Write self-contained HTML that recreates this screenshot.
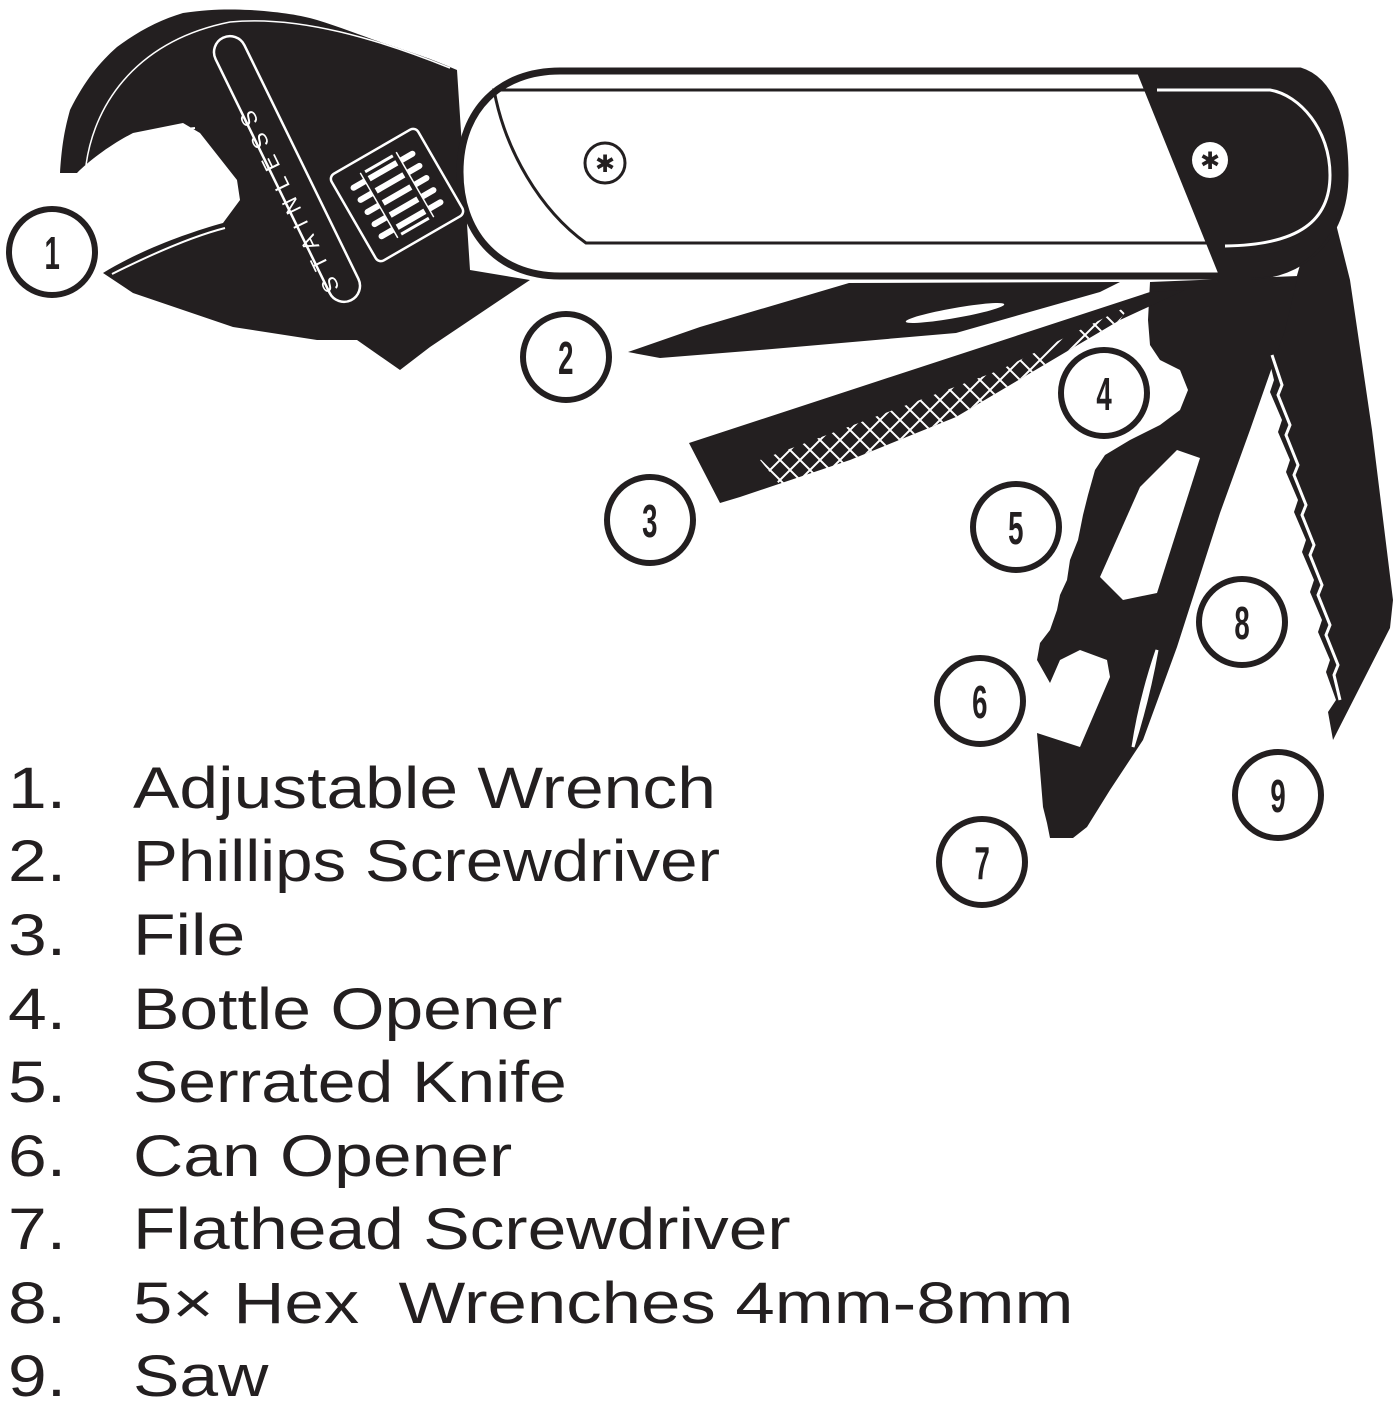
<!DOCTYPE html>
<html><head><meta charset="utf-8">
<style>
html,body{margin:0;padding:0;background:#fff;width:1397px;height:1403px;overflow:hidden}
svg{position:absolute;left:0;top:0}
.leg{position:absolute;font-family:"Liberation Sans",sans-serif;font-size:58px;color:#231f20;line-height:1;white-space:pre;transform:scaleX(1.2);transform-origin:0 0}
</style></head><body>
<svg width="1397" height="1403" viewBox="0 0 1397 1403">
<g fill="#231f20">
 <!-- saw (9) -->
 <path d="M1300,265 L1330,200 L1350,280 L1372,430 L1393,600 L1390,628 L1333,740 L1328,712 L1336,700 L1326,672 L1330,660 L1318,632 L1322,620 L1310,592 L1314,580 L1302,552 L1306,540 L1294,512 L1298,500 L1286,472 L1290,460 L1278,432 L1282,420 L1270,392 L1274,380 L1268,355 L1290,300 Z"/>
 <!-- knife + multi tool 4-7 combined -->
 <path d="M1150,282 L1298,276 L1285,330 L1250,430 L1220,513 L1177,647 L1143,740 L1110,790 L1087,827 L1073,838 L1050,838 L1047,823 L1043,807 L1037,733 L1080,747 L1110,677 L1107,660 L1080,650 L1060,660 L1050,683 L1037,660 L1040,643 L1050,630 L1057,610 L1060,595 L1067,580 L1070,560 L1078,540 L1083,515 L1088,495 L1095,470 L1105,455 L1130,440 L1160,425 L1180,410 L1188,390 L1180,370 L1160,360 L1150,345 L1148,320 Z"/>
 <!-- file (3) -->
 <path d="M689,443 L1150,292 L1185,290 L1120,320 L956,417 L850,460 L740,497 L720,503 Z"/>
 <!-- phillips (2) -->
 <path d="M628,352 L700,327 L849,283 L1120,282 L1100,292 L956,333 L760,350 L660,358 Z"/>
 <!-- wrench -->
 <path d="M60,173 C62,140 66,125 70,110 C85,80 100,62 117,47 C140,30 160,20 183,13 C210,9 230,9 250,10 C280,12 300,15 317,20 C340,27 360,35 383,43 C410,52 430,58 457,70 L470,270 L530,280 L500,300 L430,347 L400,370 L357,340 L317,340 L233,327 L133,293 L103,273 C140,250 190,232 223,223 L240,200 L237,180 L200,133 L183,123 L133,133 C110,145 90,160 77,173 Z"/>
</g>
<!-- mouth inner highlights -->
<path d="M82,170 C110,150 150,132 195,128" fill="none" stroke="#fff" stroke-width="2"/>
<path d="M112,274 C150,255 190,237 225,228" fill="none" stroke="#fff" stroke-width="2"/>
<path d="M86,165 C95,100 140,40 230,22 C300,15 380,40 450,68" fill="none" stroke="#fff" stroke-width="1.5"/>
<!-- hex hole -->
<path d="M1177,450 L1200,458 L1157,593 L1123,600 L1100,577 L1140,487 Z" fill="#fff"/>
<!-- screwdriver slit -->
<ellipse cx="955" cy="313" rx="50" ry="5" transform="rotate(-10 955 313)" fill="#fff"/>
<!-- knife slit -->
<path d="M1157,650 Q1140,700 1133,747 Q1148,700 1157,650 Z" fill="#fff" stroke="#fff" stroke-width="3"/>
<!-- saw white zigzag -->
<path d="M1272,355 L1282,385 L1278,395 L1290,425 L1286,435 L1298,465 L1294,475 L1306,505 L1302,515 L1314,545 L1310,555 L1322,585 L1318,595 L1330,625 L1326,635 L1338,665 L1334,675 L1340,700" fill="none" stroke="#fff" stroke-width="3"/>
<!-- handle -->
<path d="M560,71 L1300,71 C1330,80 1345,120 1345,175 C1345,240 1300,276 1250,276 L560,276 C495,276 460,230 460,172 C460,110 500,71 560,71 Z" fill="#fff" stroke="#231f20" stroke-width="7"/>
<path d="M494,90 L1215,90 L1228,243 L586,243 C540,210 505,150 494,90 Z" fill="none" stroke="#231f20" stroke-width="3"/>
<path d="M1136,70 L1300,70 C1330,80 1345,120 1345,175 C1345,240 1300,278 1250,278 L1220,278 Z" fill="#231f20"/>
<path d="M1157,90 L1270,90 C1300,95 1330,130 1330,175 C1330,220 1300,245 1225,246" fill="none" stroke="#fff" stroke-width="3"/>
<circle cx="605" cy="163" r="20" fill="#fff" stroke="#231f20" stroke-width="3"/>
<circle cx="1210" cy="160" r="18" fill="#fff"/>
<text x="605" y="172" font-family="DejaVu Sans,sans-serif" font-size="24" text-anchor="middle" fill="#231f20">✱</text>
<text x="1210" y="169" font-family="DejaVu Sans,sans-serif" font-size="24" text-anchor="middle" fill="#231f20">✱</text>
<!-- wrench plate -->
<g transform="translate(287,169) rotate(64)">
 <rect x="-146" y="-16" width="292" height="32" rx="16" fill="#231f20" stroke="#fff" stroke-width="2.5"/>
</g>
<text transform="translate(340,288) rotate(-116)" font-family="Liberation Sans,sans-serif" font-size="22" letter-spacing="10" fill="#fff">STAINLESS</text>
<g transform="translate(397,195) rotate(-30)">
 <rect x="-50" y="-50" width="100" height="100" rx="6" fill="#231f20" stroke="#fff" stroke-width="2.5"/>
 <g stroke="#fff" stroke-width="6" stroke-linecap="round">
  <line x1="-34" y1="-28" x2="34" y2="-28"/><line x1="-34" y1="-14" x2="34" y2="-14"/><line x1="-34" y1="0" x2="34" y2="0"/><line x1="-34" y1="14" x2="34" y2="14"/><line x1="-34" y1="28" x2="34" y2="28"/>
 </g>
 <rect x="-20" y="-36" width="40" height="72" fill="none" stroke="#fff" stroke-width="3"/>
 <line x1="-18" y1="-38" x2="-18" y2="38" stroke="#231f20" stroke-width="4"/>
 <line x1="18" y1="-38" x2="18" y2="38" stroke="#231f20" stroke-width="4"/>
</g>
<!-- file crosshatch -->
<clipPath id="fc"><path d="M780,485 L760,460 L1000,370 L1130,305 L1120,320 L956,417 L850,460 Z"/></clipPath>
<g clip-path="url(#fc)" stroke="#fff" stroke-width="2">
<path d="M640,300 L940,600 M660,300 L960,600 M680,300 L980,600 M700,300 L1000,600 M720,300 L1020,600 M740,300 L1040,600 M760,300 L1060,600 M780,300 L1080,600 M800,300 L1100,600 M820,300 L1120,600 M840,300 L1140,600 M860,300 L1160,600 M880,300 L1180,600 M900,300 L1200,600 M920,300 L1220,600 M940,300 L1240,600 M960,300 L1260,600 M980,300 L1280,600 M1000,250 L1300,550 M1020,250 L1320,550 M1040,250 L1340,550 M1060,250 L1360,550 M620,300 L920,600 M600,300 L900,600"/>
<path d="M1100,200 L800,500 M1120,200 L820,500 M1140,200 L840,500 M1160,200 L860,500 M1180,200 L880,500 M1200,200 L900,500 M1220,200 L920,500 M1240,200 L940,500 M1260,200 L960,500 M1280,200 L980,500 M1300,200 L1000,500 M1320,200 L1020,500 M1340,200 L1040,500 M1360,200 L1060,500 M1380,200 L1080,500 M1400,200 L1100,500 M1080,200 L780,500 M1060,200 L760,500 M1040,200 L740,500"/>
</g>
<!-- circles -->
<g fill="#fff" stroke="#231f20" stroke-width="6">
 <circle cx="52" cy="252" r="43"/><circle cx="566" cy="357" r="43"/><circle cx="650" cy="520" r="43"/>
 <circle cx="1104" cy="393" r="43"/><circle cx="1016" cy="527" r="43"/><circle cx="980" cy="701" r="43"/>
 <circle cx="982" cy="862" r="43"/><circle cx="1242" cy="622" r="43"/><circle cx="1278" cy="795" r="43"/>
</g>
<g font-family="Liberation Sans,sans-serif" font-weight="bold" font-size="46" text-anchor="middle" fill="#231f20" transform="scale(0.6,1)">
 <text x="87" y="269">1</text><text x="943" y="374">2</text><text x="1083" y="537">3</text>
 <text x="1840" y="410">4</text><text x="1693" y="544">5</text><text x="1633" y="718">6</text>
 <text x="1637" y="879">7</text><text x="2070" y="639">8</text><text x="2130" y="812">9</text>
</g>
</svg>
<div class="leg" style="left:8px;top:760px">1.</div><div class="leg" style="left:133px;top:760px">Adjustable Wrench</div>
<div class="leg" style="left:8px;top:833px">2.</div><div class="leg" style="left:133px;top:833px;transform:scaleX(1.16)">Phillips Screwdriver</div>
<div class="leg" style="left:8px;top:907px">3.</div><div class="leg" style="left:133px;top:907px">File</div>
<div class="leg" style="left:8px;top:981px">4.</div><div class="leg" style="left:133px;top:981px">Bottle Opener</div>
<div class="leg" style="left:8px;top:1054px">5.</div><div class="leg" style="left:133px;top:1054px;transform:scaleX(1.17)">Serrated Knife</div>
<div class="leg" style="left:8px;top:1128px">6.</div><div class="leg" style="left:133px;top:1128px">Can Opener</div>
<div class="leg" style="left:8px;top:1201px">7.</div><div class="leg" style="left:133px;top:1201px">Flathead Screwdriver</div>
<div class="leg" style="left:8px;top:1275px">8.</div><div class="leg" style="left:133px;top:1275px;transform:scaleX(1.22)">5× Hex  Wrenches 4mm-8mm</div>
<div class="leg" style="left:8px;top:1348px">9.</div><div class="leg" style="left:133px;top:1348px">Saw</div>
</body></html>
